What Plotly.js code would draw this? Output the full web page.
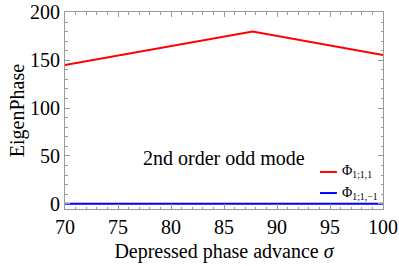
<!DOCTYPE html>
<html><head><meta charset="utf-8">
<script src="https://cdn.plot.ly/plotly-3.0.1.min.js"></script>
<style>body{margin:0;background:#fff}#c{width:399px;height:266px}</style>
</head><body><div id="c"></div>
<script>
const sigma = [70, 87.7, 100];
const phiOddPlus = [145, 180, 155.5];
const sigmaFlat = [70, 80, 90, 100];
const phiOddMinus = [0, 0, 0, 0];
const xTicks = [70, 75, 80, 85, 90, 95, 100];
const yTicks = [0, 50, 100, 150, 200];
const seriesNames = ['Φ<sub>1;1,1</sub>', 'Φ<sub>1;1,−1</sub>'];
const seriesColors = ['#ff0000', '#0000ff'];

const serif = 'Liberation Serif';
const data = [
  {x: sigma, y: phiOddPlus, mode: 'lines', line: {color: seriesColors[0], width: 2}, name: seriesNames[0]},
  {x: sigmaFlat, y: phiOddMinus, mode: 'lines', line: {color: seriesColors[1], width: 2}, name: seriesNames[1]}
];
const axisCommon = {
  showgrid: false, zeroline: false, showline: true, linecolor: '#999', linewidth: 1,
  mirror: 'allticks', ticks: 'inside', ticklen: 5, tickcolor: '#999',
  tickfont: {family: serif, size: 20, color: '#000'}
};
const legY = [0.188, 0.081];
const shapes = seriesColors.map((c, i) => ({type: 'line', xref: 'paper', yref: 'paper',
  x0: 0.802, x1: 0.855, y0: legY[i], y1: legY[i], line: {color: c, width: 2}}));
const legAnn = seriesNames.map((n, i) => ({xref: 'paper', yref: 'paper', x: 0.866, y: legY[i],
  xanchor: 'left', yanchor: 'middle', text: n, showarrow: false, font: {family: serif, size: 14, color: '#000'}}));
const layout = {
  width: 399, height: 266,
  margin: {l: 65, r: 16, t: 12, b: 57},
  paper_bgcolor: '#fff', plot_bgcolor: '#fff',
  font: {family: serif},
  showlegend: false,
  xaxis: Object.assign({}, axisCommon, {range: [70, 100], tickvals: xTicks,
    minor: {dtick: 1, ticklen: 2.5, ticks: 'inside', tickcolor: '#999'},
    title: {text: 'Depressed phase advance <i>σ</i>', font: {family: serif, size: 20, color: '#000'}, standoff: 6}}),
  yaxis: Object.assign({}, axisCommon, {range: [-5.5, 200.5], tickvals: yTicks,
    minor: {dtick: 10, ticklen: 2.5, ticks: 'inside', tickcolor: '#999'},
    title: {text: 'EigenPhase', font: {family: serif, size: 20, color: '#000'}, standoff: 0}}),
  shapes: shapes,
  annotations: [{xref: 'paper', yref: 'paper', x: 0.5, y: 0.26, xanchor: 'center', yanchor: 'middle',
    text: '2nd order odd mode', showarrow: false, font: {family: serif, size: 20, color: '#000'}}].concat(legAnn)
};
Plotly.newPlot('c', data, layout, {displayModeBar: false, staticPlot: true});
</script></body></html>
